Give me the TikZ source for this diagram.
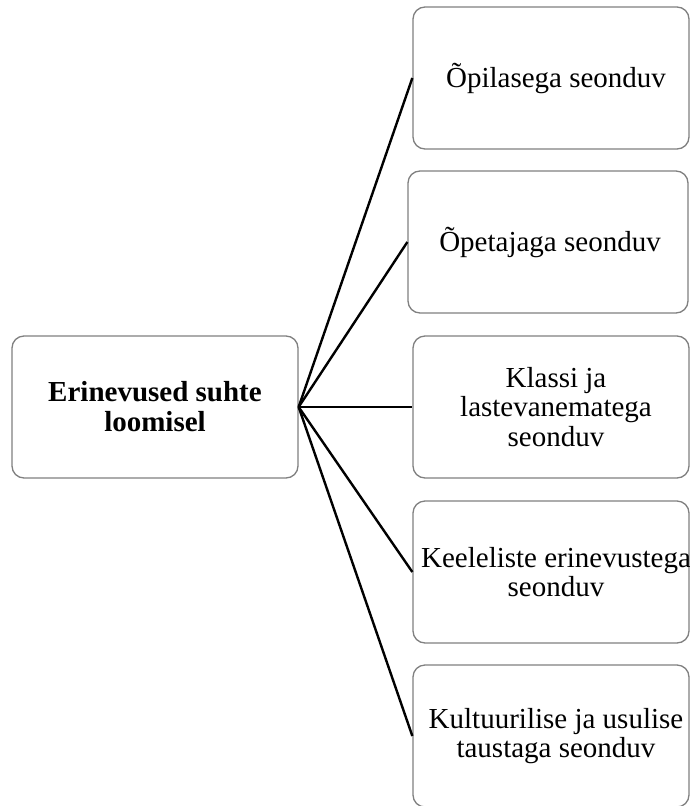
\documentclass[tikz,border=0pt]{standalone}
\usepackage{fontspec}
\setmainfont{Liberation Serif}
\definecolor{boxgray}{RGB}{128,128,128}
\begin{document}
\begin{tikzpicture}[x=1pt,y=-1pt,
  box/.style={draw=boxgray, line width=1.3pt, rounded corners=12pt, fill=white, inner sep=0pt, minimum height=142pt},
  txt/.style={align=center, font=\fontsize{29}{29.5}\selectfont, inner sep=0pt},
  link/.style={line width=2.4pt, draw=black}]
\useasboundingbox (0,0) rectangle (690,806);
\clip (0,0) rectangle (690,806);
% boxes
\node[box, minimum width=286pt] (root) at (155,407) {};
\node[box, minimum width=276pt] (b1) at (551,78) {};
\node[box, minimum width=280pt] (b2) at (548,242) {};
\node[box, minimum width=276pt] (b3) at (551,407) {};
\node[box, minimum width=276pt] (b4) at (551,572) {};
\node[box, minimum width=276pt] (b5) at (551,736) {};
% texts
\node[txt, font=\fontsize{29}{30}\selectfont\bfseries] (t0) at (155,407) {Erinevused suhte\\loomisel};
\node[txt] (t1) at (556,78) {Õpilasega seonduv};
\node[txt] (t2) at (550,242) {Õpetajaga seonduv};
\node[txt] (t3) at (556,407) {Klassi ja\\lastevanematega\\seonduv};
\node[txt] (t4) at (556,572) {Keeleliste erinevustega\\seonduv};
\node[txt] (t5) at (556,736) {Kultuurilise ja usulise\\taustaga seonduv};
% connectors
\foreach \b in {b1,b2,b3,b4,b5}
  \draw[link] (root.east) -- (\b.west);
\end{tikzpicture}
\end{document}
